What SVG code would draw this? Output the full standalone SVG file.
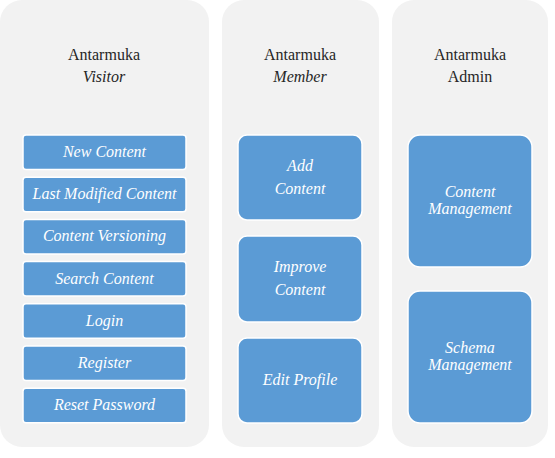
<svg xmlns="http://www.w3.org/2000/svg" width="555" height="458" viewBox="0 0 555 458">
<style>
.panel{fill:#f2f2f2;}
.box{fill:#5b9bd5;stroke:#ffffff;stroke-width:1.5;}
.title{font-family:'Liberation Serif','Times New Roman',Tinos,'DejaVu Serif',serif;font-size:16px;fill:#262626;text-anchor:middle;}
.it{font-style:italic;}
.lbl{font-family:'Liberation Serif','Times New Roman',Tinos,'DejaVu Serif',serif;font-style:italic;font-size:16px;fill:#ffffff;text-anchor:middle;}
</style>
<rect width="555" height="458" fill="#ffffff"/>
<g id="panel-visitor">
<rect class="panel" x="0" y="0" width="209" height="447" rx="22"/>
<text class="title" x="104" y="60">Antarmuka</text>
<text class="title it" x="104" y="82">Visitor</text>
</g>
<g id="panel-member">
<rect class="panel" x="222" y="0" width="157" height="447" rx="22"/>
<text class="title" x="300" y="60">Antarmuka</text>
<text class="title it" x="300" y="82">Member</text>
</g>
<g id="panel-admin">
<rect class="panel" x="392" y="0" width="156" height="447" rx="22"/>
<text class="title" x="470" y="60">Antarmuka</text>
<text class="title" x="470" y="82">Admin</text>
</g>
<g id="new-content"><rect class="box" x="23" y="135" width="163" height="34.5" rx="3"/><text class="lbl" x="104.5" y="157">New Content</text></g>
<g id="last-modified-content"><rect class="box" x="23" y="177.2" width="163" height="34.5" rx="3"/><text class="lbl" x="104.5" y="199.2">Last Modified Content</text></g>
<g id="content-versioning"><rect class="box" x="23" y="219.4" width="163" height="34.5" rx="3"/><text class="lbl" x="104.5" y="241.4">Content Versioning</text></g>
<g id="search-content"><rect class="box" x="23" y="261.6" width="163" height="34.5" rx="3"/><text class="lbl" x="104.5" y="283.6">Search Content</text></g>
<g id="login"><rect class="box" x="23" y="303.8" width="163" height="34.5" rx="3"/><text class="lbl" x="104.5" y="325.8">Login</text></g>
<g id="register"><rect class="box" x="23" y="346" width="163" height="34.5" rx="3"/><text class="lbl" x="104.5" y="368">Register</text></g>
<g id="reset-password"><rect class="box" x="23" y="388.2" width="163" height="34.5" rx="3"/><text class="lbl" x="104.5" y="410.2">Reset Password</text></g>
<g id="add-content"><rect class="box" x="238" y="135" width="124" height="85" rx="9"/><text class="lbl" x="300" y="171">Add</text><text class="lbl" x="300" y="194">Content</text></g>
<g id="improve-content"><rect class="box" x="238" y="236" width="124" height="86" rx="9"/><text class="lbl" x="300" y="272">Improve</text><text class="lbl" x="300" y="295">Content</text></g>
<g id="edit-profile"><rect class="box" x="238" y="338" width="124" height="85" rx="9"/><text class="lbl" x="300" y="385">Edit Profile</text></g>
<g id="content-management"><rect class="box" x="408" y="135" width="124" height="132" rx="12"/><text class="lbl" x="470" y="197">Content</text><text class="lbl" x="470" y="214">Management</text></g>
<g id="schema-management"><rect class="box" x="408" y="291" width="124" height="132" rx="12"/><text class="lbl" x="470" y="353">Schema</text><text class="lbl" x="470" y="370">Management</text></g>
<g id="connectors"></g>
</svg>
